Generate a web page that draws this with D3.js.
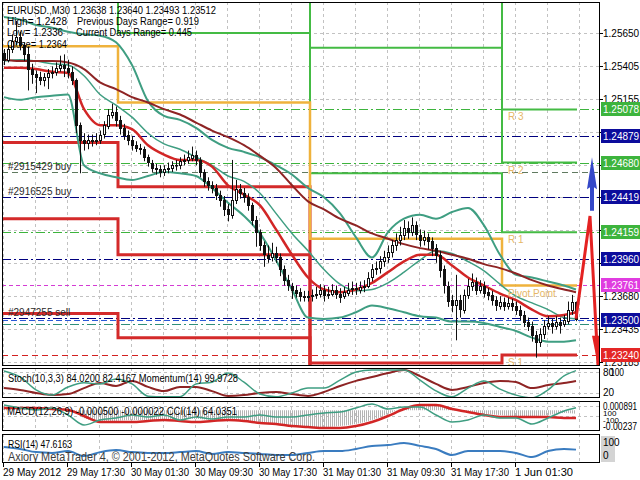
<!DOCTYPE html>
<html><head><meta charset="utf-8">
<script src="https://cdn.jsdelivr.net/npm/d3@7/dist/d3.min.js"></script>
<style>
html,body{margin:0;padding:0;background:#fff;}
svg{display:block;}
text{font-family:"Liberation Sans",Arial,Helvetica,sans-serif;}
</style></head><body>
<svg id="chart" width="640" height="480"></svg>
<script>
// ---------------- DATA ----------------
const opens=[1.2550,1.2545,1.2553,1.2559,1.2562,1.2556,1.2549,1.2538,1.2534,1.2532,
1.2530,1.2532,1.2535,1.2536,1.2539,1.2541,1.2539,1.2536,1.2530,1.2496,
1.2485,1.2483,1.2485,1.2484,1.2485,1.2489,1.2496,1.2504,1.2506,1.2500,
1.2494,1.2489,1.2485,1.2481,1.2479,1.2478,1.2472,1.2468,1.2464,1.2463,
1.2461,1.2463,1.2464,1.2466,1.2466,1.2469,1.2470,1.2472,1.2474,1.2470,
1.2461,1.2454,1.2451,1.2449,1.2444,1.2440,1.2433,1.2429,1.2440,1.2448,
1.2445,1.2442,1.2436,1.2425,1.2416,1.2406,1.2399,1.2397,1.2400,1.2397,
1.2388,1.2380,1.2376,1.2373,1.2371,1.2368,1.2367,1.2368,1.2369,1.2370,
1.2373,1.2369,1.2370,1.2373,1.2370,1.2368,1.2371,1.2373,1.2374,1.2373,
1.2375,1.2376,1.2382,1.2388,1.2389,1.2394,1.2397,1.2401,1.2406,1.2410,
1.2414,1.2419,1.2416,1.2421,1.2414,1.2410,1.2412,1.2409,1.2404,1.2399,
1.2388,1.2376,1.2365,1.2361,1.2365,1.2358,1.2369,1.2376,1.2379,1.2373,
1.2376,1.2371,1.2369,1.2365,1.2361,1.2364,1.2361,1.2363,1.2361,1.2358,
1.2354,1.2349,1.2346,1.2339,1.2334,1.2340,1.2346,1.2348,1.2346,1.2349,
1.2347,1.2350,1.2358,1.23638];
const closes=[1.2545,1.2553,1.2559,1.2562,1.2556,1.2549,1.2538,1.2534,1.2532,1.2530,
1.2532,1.2535,1.2536,1.2539,1.2541,1.2539,1.2536,1.2530,1.2496,1.2485,
1.2483,1.2485,1.2484,1.2485,1.2489,1.2496,1.2504,1.2506,1.2500,1.2494,
1.2489,1.2485,1.2481,1.2479,1.2478,1.2472,1.2468,1.2464,1.2463,1.2461,
1.2463,1.2464,1.2466,1.2466,1.2469,1.2470,1.2472,1.2474,1.2470,1.2461,
1.2454,1.2451,1.2449,1.2444,1.2440,1.2433,1.2429,1.2440,1.2448,1.2445,
1.2442,1.2436,1.2425,1.2416,1.2406,1.2399,1.2397,1.2400,1.2397,1.2388,
1.2380,1.2376,1.2373,1.2371,1.2368,1.2367,1.2368,1.2369,1.2370,1.2373,
1.2369,1.2370,1.2373,1.2370,1.2368,1.2371,1.2373,1.2374,1.2373,1.2375,
1.2376,1.2382,1.2388,1.2389,1.2394,1.2397,1.2401,1.2406,1.2410,1.2414,
1.2419,1.2416,1.2421,1.2414,1.2410,1.2412,1.2409,1.2404,1.2399,1.2388,
1.2376,1.2365,1.2361,1.2365,1.2358,1.2369,1.2376,1.2379,1.2373,1.2376,
1.2371,1.2369,1.2365,1.2361,1.2364,1.2361,1.2363,1.2361,1.2358,1.2354,
1.2349,1.2346,1.2339,1.2334,1.2340,1.2346,1.2348,1.2346,1.2349,1.2347,
1.2350,1.2358,1.2364,1.23512];
const highs=[1.2553,1.2556,1.2564,1.2574,1.2566,1.2558,1.2555,1.2542,1.2537,1.2536,
1.2535,1.2538,1.2540,1.2543,1.2548,1.2549,1.2545,1.2540,1.2531,1.2498,
1.2490,1.2489,1.2489,1.2490,1.2492,1.2499,1.2508,1.2512,1.2510,1.2503,
1.2497,1.2492,1.2488,1.2484,1.2482,1.2480,1.2474,1.2470,1.2467,1.2466,
1.2466,1.2468,1.2469,1.2470,1.2472,1.2474,1.2477,1.2480,1.2477,1.2472,
1.2463,1.2457,1.2454,1.2452,1.2447,1.2443,1.2437,1.2470,1.2455,1.2452,
1.2449,1.2445,1.2438,1.2428,1.2418,1.2409,1.2406,1.2408,1.2405,1.2400,
1.2391,1.2384,1.2378,1.2376,1.2374,1.2372,1.2372,1.2373,1.2375,1.2377,
1.2376,1.2375,1.2377,1.2376,1.2374,1.2375,1.2378,1.2379,1.2378,1.2379,
1.2380,1.2386,1.2392,1.2394,1.2398,1.2402,1.2406,1.2410,1.2415,1.2420,
1.2425,1.2424,1.2427,1.2424,1.2418,1.2417,1.2415,1.2412,1.2407,1.2402,
1.2391,1.2379,1.2369,1.2384,1.2369,1.2373,1.2381,1.2385,1.2382,1.2380,
1.2379,1.2374,1.2372,1.2368,1.2368,1.2367,1.2367,1.2366,1.2364,1.2361,
1.2357,1.2352,1.2349,1.2342,1.2344,1.2350,1.2353,1.2351,1.2353,1.2352,
1.2354,1.2364,1.2369,1.23640];
const lows=[1.2541,1.2543,1.2550,1.2556,1.2552,1.2544,1.2522,1.2527,1.2520,1.2526,
1.2525,1.2523,1.2531,1.2533,1.2536,1.2532,1.2531,1.2526,1.2490,1.2460,
1.2477,1.2478,1.2480,1.2481,1.2482,1.2486,1.2493,1.2501,1.2495,1.2489,
1.2485,1.2481,1.2477,1.2476,1.2474,1.2469,1.2465,1.2461,1.2459,1.2457,
1.2458,1.2460,1.2461,1.2462,1.2463,1.2466,1.2467,1.2469,1.2466,1.2457,
1.2450,1.2447,1.2445,1.2440,1.2435,1.2428,1.2424,1.2426,1.2437,1.2441,
1.2438,1.2432,1.2421,1.2405,1.2402,1.2390,1.2393,1.2394,1.2393,1.2383,
1.2376,1.2372,1.2366,1.2367,1.2364,1.2364,1.2364,1.2364,1.2366,1.2367,
1.2364,1.2366,1.2368,1.2366,1.2363,1.2366,1.2368,1.2369,1.2369,1.2370,
1.2371,1.2374,1.2379,1.2384,1.2385,1.2390,1.2393,1.2397,1.2402,1.2406,
1.2410,1.2411,1.2413,1.2410,1.2405,1.2406,1.2403,1.2398,1.2393,1.2382,
1.2370,1.2360,1.2356,1.2335,1.2352,1.2355,1.2366,1.2372,1.2369,1.2370,
1.2367,1.2365,1.2361,1.2357,1.2358,1.2357,1.2358,1.2357,1.2354,1.2350,
1.2345,1.2342,1.2334,1.2322,1.2330,1.2336,1.2343,1.2340,1.2343,1.2340,
1.2345,1.2347,1.2354,1.23493];

// indicator samples (every 4 bars)
const sampleBars=[0,4,8,12,16,20,24,28,32,36,40,44,48,52,56,60,64,68,72,76,80,84,88,92,96,100,104,108,112,116,120,124,128,132,136,140,143];
const bbUpper=[1.2577,1.2575,1.2571,1.2569,1.2566,1.2564,1.2563,1.2558,1.2541,1.2514,1.2503,1.2500,1.2494,1.2485,1.2479,1.2476,1.2472,1.2466,1.2459,1.2449,1.2442,1.2430,1.2412,1.2397,1.2416,1.2426,1.2429,1.2426,1.2431,1.2434,1.2421,1.2399,1.2384,1.2382,1.2379,1.2376,1.2373];
const bbMiddle=[1.2544,1.2545,1.2544,1.2542,1.2541,1.2533,1.2519,1.2511,1.2502,1.2490,1.2482,1.2478,1.2472,1.2466,1.2458,1.2454,1.2445,1.2430,1.2415,1.2402,1.2388,1.2377,1.2372,1.2373,1.2378,1.2386,1.2395,1.2402,1.2400,1.2394,1.2387,1.2377,1.2368,1.2363,1.2358,1.2352,1.2351];
const bbLower=[1.2517,1.2515,1.2517,1.2518,1.2519,1.2466,1.2460,1.2457,1.2455,1.2458,1.2461,1.2460,1.2458,1.2449,1.2438,1.2428,1.2415,1.2395,1.2373,1.2352,1.2351,1.2352,1.2356,1.2361,1.2359,1.2356,1.2353,1.2352,1.2349,1.2349,1.2348,1.2345,1.2342,1.2337,1.2334,1.2334,1.2335];
const maSlow=[1.2545,1.2544,1.2544,1.2544,1.2543,1.2538,1.2528,1.2523,1.2517,1.2513,1.2508,1.2504,1.2498,1.2492,1.2487,1.2481,1.2473,1.2464,1.2451,1.2439,1.2433,1.2426,1.2421,1.2415,1.2411,1.2407,1.2404,1.2402,1.2399,1.2396,1.2392,1.2389,1.2385,1.2380,1.2376,1.2373,1.2371];
const maFast=[1.2539,1.2539,1.2538,1.2536,1.2535,1.2508,1.2496,1.2496,1.2493,1.2481,1.2474,1.2470,1.2470,1.2465,1.2451,1.2444,1.2436,1.2418,1.2399,1.2382,1.2373,1.2371,1.2373,1.2378,1.2386,1.2394,1.2399,1.2399,1.2391,1.2382,1.2376,1.2370,1.2365,1.2358,1.2353,1.2354,1.2356];
const stochMain=[83,66,29,14,37,49,46,60,46,11,9,9,46,51,77,51,17,9,20,34,34,57,80,86,86,86,57,26,9,34,54,31,14,6,29,69,84.02];
const momentum=[99.73,99.67,99.57,99.50,99.53,99.73,99.90,99.80,99.97,99.77,99.63,99.77,99.77,99.63,99.47,99.50,99.57,99.60,99.53,99.47,99.60,99.80,99.97,100.10,100.23,100.33,100.13,99.87,99.67,99.77,99.90,99.97,99.93,99.73,99.83,99.90,99.97];
const macdMain=[0.00047,0.00047,0.00033,0.00018,0.00018,-0.00109,-0.00166,-0.00152,-0.00138,-0.00138,-0.00138,-0.00123,-0.00123,-0.00138,-0.00152,-0.00152,-0.00166,-0.00194,-0.00223,-0.00237,-0.00237,-0.00223,-0.00194,-0.00138,-0.00052,0.00033,0.00075,0.00075,0.00018,-0.00024,-0.00052,-0.00067,-0.00081,-0.00081,-0.00067,-0.00038,-0.00050];
const macdSignal=[0.00033,0.00033,0.00033,0.00018,0.00004,-0.00081,-0.00166,-0.00166,-0.00166,-0.00152,-0.00138,-0.00152,-0.00166,-0.00152,-0.00138,-0.00152,-0.00180,-0.00194,-0.00223,-0.00237,-0.00251,-0.00251,-0.00223,-0.00166,-0.00081,0.00018,0.00075,0.00075,0.00018,-0.00024,-0.00067,-0.00095,-0.00095,-0.00095,-0.00095,-0.00109,-0.00109];
const cci=[120,60,20,60,-80,-280,-180,-140,-80,-120,-80,-180,-120,-160,-120,-120,-80,-120,-120,-80,-40,-20,60,140,40,80,80,-80,-220,-180,-80,-140,-140,-260,-140,0,64];
const rsi=[58,50,38,35,42,23,38,46,38,35,35,38,42,31,38,35,31,27,27,35,42,42,50,62,65,73,62,50,27,42,42,42,35,19,42,50,47.6];

// daily pivot levels (4 sessions)
const dayStartBars=[0,29,77,125];
const dayEndBars=[28,76,124,143];
const pivotLevels=[1.2555,1.2513,1.2411,1.2376];
const r1Levels=[1.2605,1.2565,1.2460,1.24159];
const r2Levels=[1.2640,1.2600,1.2554,1.24680];
const r3Levels=[1.2680,1.2640,1.2610,1.25078];
const s1Levels=[1.2483,1.2450,1.2318,1.23240];
const s2Levels=[1.2426,1.2399,1.2280,1.2295];
const s3Levels=[1.2355,1.2337,1.2250,1.2270];
const pivotNames=["R 3","R 2","R 1","Pivot Point","S 1"];

// horizontal levels / orders
const levelPrices=[1.25078,1.24879,1.24680,1.24610,1.24419,1.24159,1.23960,1.23761,1.23515,1.23500,1.23475,1.23240];
const orderLabels=["#2915429 buy","#2916525 buy","#2947255 sell"];
const orderLabelPrices=[1.24610,1.24419,1.23515];
const boxPrices=[1.25078,1.24879,1.24680,1.24419,1.24159,1.23960,1.23761,1.23500,1.23240];
const priceTicks=[1.25650,1.25405,1.25155,1.24910,1.24665,1.24420,1.24175,1.23930,1.23680,1.23435,1.23185];
const timeLabels=["29 May 2012","29 May 17:30","30 May 01:30","30 May 09:30","30 May 17:30","31 May 01:30","31 May 09:30","31 May 17:30","1 Jun 01:30"];
const timeLabelBars=[0,16,32,48,64,80,96,112,128];
const forecastBars=[143,146.5,148.5];
const forecastPrices=[1.23512,1.2428,1.2316];
const upArrowBar=147, upArrowFrom=1.2432, upArrowTo=1.2472;

const headerLines=["EURUSD.,M30  1.23638 1.23640 1.23493 1.23512","High= 1.2428","Low= 1.2336","Close= 1.2364"];
const rangeLines=["Previous Days Range= 0.919","Current Days Range= 0.445"];

// ---------------- CHART ----------------
const svg=d3.select("#chart");
const L=2,R=600;
const panels={main:[2,366],stoch:[368,398],macd:[401,431],rsi:[434,463]};
const x=d3.scaleLinear().domain([0,143]).range([4,576]);
const yMain=d3.scaleLinear().domain([1.23240,1.25650]).range([355,33]);
const yStoch=d3.scaleLinear().domain([0,100]).range([400,365]);
const yMom=d3.scaleLinear().domain([99.4,100.4]).range([398,368]);
const yMacd=d3.scaleLinear().domain([-0.00237,0.000891]).range([427,404]);
const yCci=d3.scaleLinear().domain([-100,100]).range([416,406]);
const yRsi=d3.scaleLinear().domain([0,100]).range([462,436]);

svg.append("rect").attr("width",640).attr("height",480).attr("fill","#fff");
const defs=svg.append("defs");
Object.entries(panels).forEach(([k,[t,b]])=>{
  defs.append("clipPath").attr("id","clip-"+k).append("rect")
    .attr("x",L).attr("y",t).attr("width",R-L).attr("height",b-t);
});
const hatch=defs.append("pattern").attr("id","hatch").attr("patternUnits","userSpaceOnUse")
  .attr("width",2).attr("height",4);
hatch.append("rect").attr("x",0).attr("y",0).attr("width",1).attr("height",4).attr("fill","#b4b4b4");

const pg=k=>svg.append("g").attr("clip-path",`url(#clip-${k})`);
const gridColor="#c2c2c2";
const vGridBars=d3.range(0,150,8);

// grids
Object.entries(panels).forEach(([k,[t,b]])=>{
  const g=pg(k);
  g.selectAll("line").data(vGridBars).join("line")
    .attr("x1",d=>Math.round(x(d))-0.5).attr("x2",d=>Math.round(x(d))-0.5)
    .attr("y1",t).attr("y2",b).attr("stroke",gridColor).attr("stroke-dasharray","3,3");
});
const gMain=pg("main");
gMain.append("g").selectAll("line").data(priceTicks).join("line")
  .attr("x1",L).attr("x2",R).attr("y1",d=>Math.round(yMain(d))+0.5).attr("y2",d=>Math.round(yMain(d))+0.5)
  .attr("stroke",gridColor).attr("stroke-dasharray","3,3");

// sub-panel level grids
const gS=pg("stoch"), gM=pg("macd"), gR=pg("rsi");
[80,20].forEach(v=>gS.append("line").attr("x1",L).attr("x2",R).attr("y1",Math.round(yStoch(v))+0.5).attr("y2",Math.round(yStoch(v))+0.5).attr("stroke",gridColor).attr("stroke-dasharray","3,3"));
[100,-100].forEach(v=>gM.append("line").attr("x1",L).attr("x2",R).attr("y1",Math.round(yCci(v))+0.5).attr("y2",Math.round(yCci(v))+0.5).attr("stroke",gridColor).attr("stroke-dasharray","3,3"));

// horizontal level lines
const navy="#00007f", grn="#3db43d";
const levelStyles=[
 {c:grn,d:"9,3,2,3"},{c:navy,d:"9,3,2,3"},{c:grn,d:"9,3,2,3"},{c:"#607a60",d:"6,4"},
 {c:navy,d:"9,3,2,3"},{c:grn,d:"9,3,2,3"},{c:navy,d:"9,3,2,3"},{c:"#d43cd4",d:"4,3"},
 {c:navy,d:"9,3,2,3"},{c:"#2a5ad8",d:"6,3"},{c:"#2f8f7a",d:"9,3,2,3"},{c:"#d22020",d:"6,4"}];
gMain.append("g").selectAll("line").data(levelPrices).join("line")
  .attr("x1",L).attr("x2",R).attr("y1",d=>Math.round(yMain(d))+0.5).attr("y2",d=>Math.round(yMain(d))+0.5)
  .attr("stroke",(d,i)=>levelStyles[i].c).attr("stroke-dasharray",(d,i)=>levelStyles[i].d).attr("stroke-width",1);

// pivot step lines
function stepPts(levels){
  const pts=[];
  levels.forEach((v,i)=>{
    const xs=i===0?L:x(dayStartBars[i]-0.5);
    const xe=i===levels.length-1?x(dayEndBars[i]+0.25):x(dayEndBars[i]+0.5);
    pts.push([xs,yMain(v)],[xe,yMain(v)]);
  });
  return pts;
}
const stepLine=d3.line();
[[s3Levels,"#d42a2a",3],[s2Levels,"#d42a2a",3],[s1Levels,"#d42a2a",3],
 [r3Levels,"#44bb44",2],[r2Levels,"#44bb44",2],[r1Levels,"#44bb44",2],
 [pivotLevels,"#efb23c",2.5]].forEach(([lv,c,w])=>{
  gMain.append("path").attr("d",stepLine(stepPts(lv))).attr("fill","none").attr("stroke",c).attr("stroke-width",w);
});

// bands and MAs
const curveLine=d3.line().x((d,i)=>x(sampleBars[i])).y(d=>yMain(d)).curve(d3.curveMonotoneX);
[[bbUpper,"#3f9e82",2],[bbLower,"#3f9e82",2],[bbMiddle,"#3f9e82",1.5],
 [maSlow,"#8e2424",2],[maFast,"#d22626",2.5]].forEach(([arr,c,w])=>{
  gMain.append("path").attr("d",curveLine(arr)).attr("fill","none").attr("stroke",c).attr("stroke-width",w);
});

// candles
const candles=d3.range(closes.length);
const cg=gMain.append("g");
cg.selectAll("line").data(candles).join("line")
  .attr("x1",i=>Math.round(x(i))+0.5).attr("x2",i=>Math.round(x(i))+0.5)
  .attr("y1",i=>yMain(highs[i])).attr("y2",i=>yMain(lows[i])).attr("stroke","#111");
cg.selectAll("rect").data(candles).join("rect")
  .attr("x",i=>Math.round(x(i))-0.5).attr("width",2)
  .attr("y",i=>Math.round(yMain(Math.max(opens[i],closes[i])))+0.5)
  .attr("height",i=>Math.max(0.5,Math.round(Math.abs(yMain(opens[i])-yMain(closes[i])))))
  .attr("fill",i=>closes[i]>=opens[i]?"#fff":"#111").attr("stroke","#111");

// text in main
const tf=(g,t,xx,yy,opt={})=>{const e=g.append("text").attr("x",xx).attr("y",yy).text(t)
  .attr("font-size",opt.fs||10).attr("fill",opt.c||"#000");
  if(opt.tl) e.attr("textLength",opt.tl).attr("lengthAdjust","spacingAndGlyphs"); return e;};
tf(gMain,headerLines[0],7,14,{tl:209});
tf(gMain,headerLines[1],7,25,{tl:60});
tf(gMain,headerLines[2],7,36,{tl:56});
tf(gMain,headerLines[3],7,48,{tl:60});
tf(gMain,rangeLines[0],77,25,{tl:122});
tf(gMain,rangeLines[1],76,36,{tl:116});
orderLabels.forEach((t,i)=>tf(gMain,t,8,yMain(orderLabelPrices[i])-2,{c:"#2a2a2a"}));
const lastLv=[r3Levels[3],r2Levels[3],r1Levels[3],pivotLevels[3],s1Levels[3]];
pivotNames.forEach((t,i)=>tf(gMain,t,508,yMain(lastLv[i])+11,{c:"#e6b767"}));

// forecast arrows
const fx=forecastBars.map(b=>x(b)), fy=forecastPrices.map(p=>yMain(p));
gMain.append("path").attr("d",d3.line()(fx.map((v,i)=>[v,fy[i]])))
  .attr("fill","none").attr("stroke","#e42222").attr("stroke-width",3).attr("stroke-linejoin","miter");
const ax=fx[2], ay=fy[2];
gMain.append("path").attr("d",`M${ax-6},${ay-30}L${ax+4},${ay-30}L${ax},${ay}Z`).attr("fill","#e42222");
const ux=x(upArrowBar), uy0=yMain(upArrowFrom), uy1=yMain(upArrowTo);
gMain.append("path").attr("d",`M${ux},${uy1}L${ux+5},${uy1+32}L${ux+2},${uy1+30}L${ux+2},${uy0}L${ux-2},${uy0}L${ux-2},${uy1+30}L${ux-5},${uy1+32}Z`)
  .attr("fill","#3448c8");

// ---------- Stoch / Momentum panel ----------
const subLine=(ys)=>d3.line().x((d,i)=>x(sampleBars[i])).y(d=>ys(d)).curve(d3.curveMonotoneX);
gS.append("path").attr("d",subLine(yMom)(momentum)).attr("fill","none").attr("stroke","#8e2424").attr("stroke-width",2);
gS.append("path").attr("d",subLine(yStoch)(stochMain)).attr("fill","none").attr("stroke","#3f9e82").attr("stroke-width",1.5);
tf(gS,"Stoch(10,3,3) 84.0200 82.4167  Momentum(14) 99.9728",8,382,{tl:230});

// ---------- MACD / CCI panel ----------
const area=d3.area().x((d,i)=>x(sampleBars[i])).y0(yMacd(0)).y1(d=>yMacd(d)).curve(d3.curveMonotoneX);
gM.append("path").attr("d",area(macdMain)).attr("fill","url(#hatch)");
gM.append("path").attr("d",subLine(yMacd)(macdSignal)).attr("fill","none").attr("stroke","#d22626").attr("stroke-width",2.5);
gM.append("path").attr("d",subLine(yCci)(cci)).attr("fill","none").attr("stroke","#3f9e82").attr("stroke-width",1.5);
tf(gM,"MACD(12,26,9) -0.000500 -0.000022  CCI(14) 64.0351",7,415,{tl:230});

// ---------- RSI panel ----------
gR.append("path").attr("d",subLine(yRsi)(rsi)).attr("fill","none").attr("stroke","#3a7cc0").attr("stroke-width",2);
tf(gR,"RSI(14) 47.6163",8,448,{tl:64});
tf(gR,"Axiory MetaTrader 4, \u00a9 2001-2012, MetaQuotes Software Corp.",8,461,{fs:12,c:"#3c3c3c",tl:307});

// borders
Object.values(panels).forEach(([t,b])=>{
  svg.append("rect").attr("x",L+0.5).attr("y",t+0.5).attr("width",R-L-1).attr("height",b-t-1)
    .attr("fill","none").attr("stroke","#000");
});

// right axis: main
const ax2=svg.append("g");
priceTicks.forEach(p=>{
  const yy=Math.round(yMain(p));
  ax2.append("line").attr("x1",R).attr("x2",R+3).attr("y1",yy+0.5).attr("y2",yy+0.5).attr("stroke","#000");
  const covered=boxPrices.some(bp=>Math.abs(yMain(bp)-yMain(p))<7);
  if(!covered) tf(ax2,p.toFixed(5),603,yy+4);
});
const boxColors=[grn,"#0c0c9c",grn,"#0c0c9c",grn,"#0c0c9c","#e03ce0","#0c0c9c","#e42626"];
boxPrices.forEach((p,i)=>{
  const yy=Math.round(yMain(p));
  ax2.append("rect").attr("x",R+1).attr("y",yy-7).attr("width",40).attr("height",14).attr("fill",boxColors[i]);
  tf(ax2,p.toFixed(5),603,yy+4,{c:"#fff"});
});
// right axis: sub panels
tf(ax2,"80",603,376); tf(ax2,"100",610,376,{tl:14}); tf(ax2,"20",603,396);
tf(ax2,"0.000891",603,410,{tl:34}); tf(ax2,"100",603,416,{fs:8}); tf(ax2,"-100",603,423,{fs:8});
tf(ax2,"-0.00237",603,430,{tl:34});
ax2.append("rect").attr("x",601).attr("y",436).attr("width",14).attr("height",26).attr("fill","#d4d4d4");
tf(ax2,"100",603,446); tf(ax2,"0",603,459);

// time axis
timeLabelBars.forEach((b,i)=>{
  const xx=Math.round(x(b))-0.5;
  ax2.append("line").attr("x1",xx).attr("x2",xx).attr("y1",463).attr("y2",467).attr("stroke","#000");
  tf(ax2,timeLabels[i],xx-0.5,476,{tl:58});
});
</script>
</body></html>
